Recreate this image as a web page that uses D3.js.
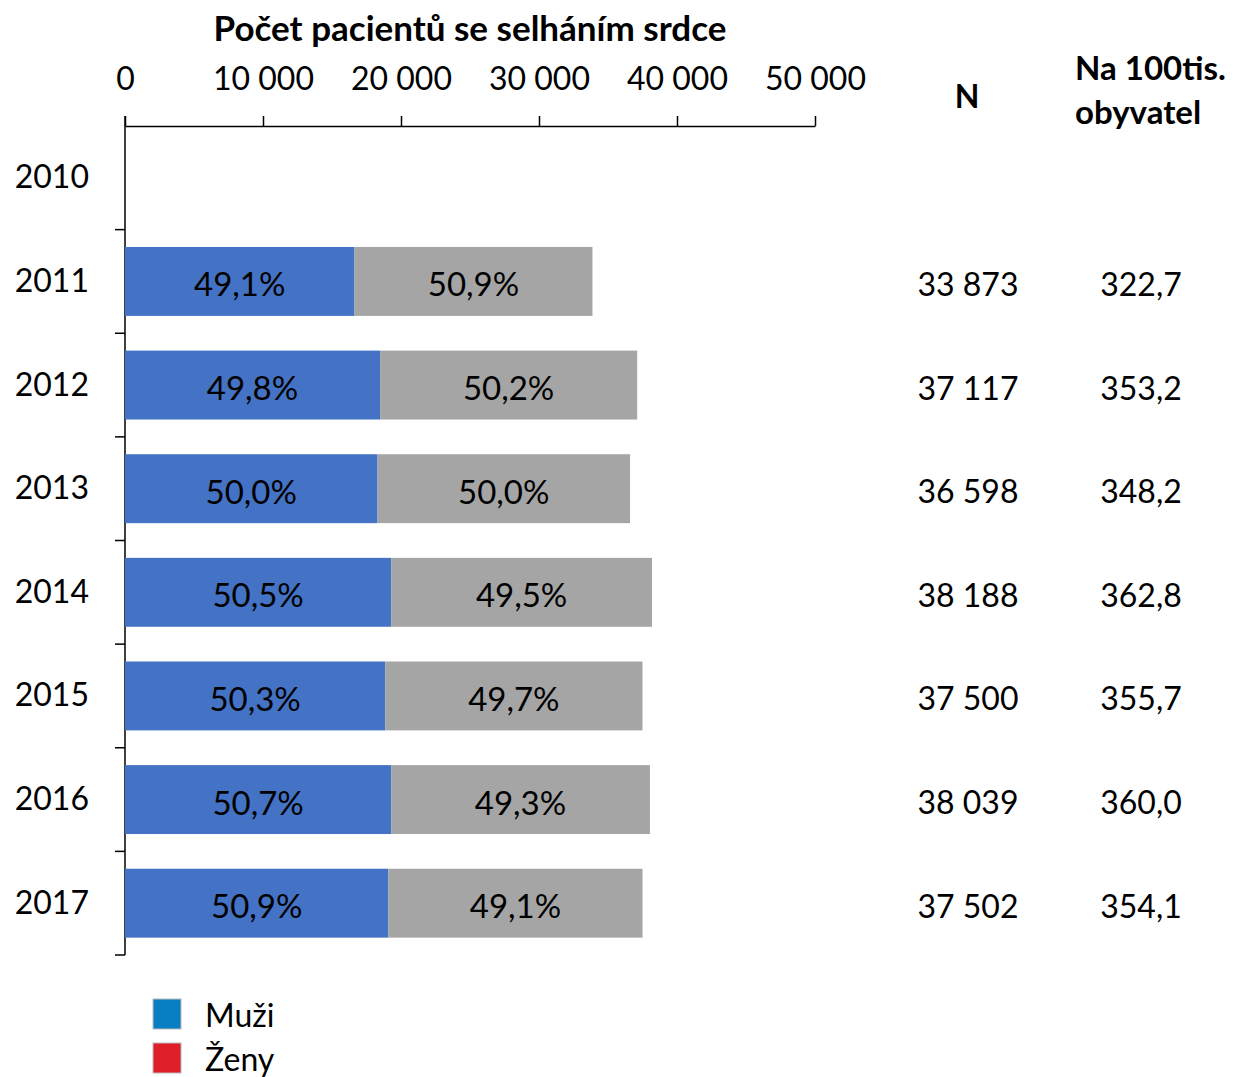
<!DOCTYPE html>
<html lang="cs">
<head>
<meta charset="utf-8">
<title>Počet pacientů se selháním srdce</title>
<script src="https://cdn.jsdelivr.net/npm/d3@7"></script>
<style>
  body { margin: 0; background: #fff; }
  svg text { font-family: Lato, "Open Sans", sans-serif; fill: #000; }
  .axis path, .axis line { stroke: #000; stroke-width: 1.5px; }
</style>
</head>
<body>
<svg width="1234" height="1077"></svg>
<script>
var years = ["2010", "2011", "2012", "2013", "2014", "2015", "2016", "2017"];
var totalN = [null, 33873, 37117, 36598, 38188, 37500, 38039, 37502];
var menShare = [null, 49.1, 49.8, 50.0, 50.5, 50.3, 50.7, 50.9];
var per100k = [null, "322,7", "353,2", "348,2", "362,8", "355,7", "360,0", "354,1"];
var xTicks = [0, 10000, 20000, 30000, 40000, 50000];
var legendItems = [{name: "Muži", color: "#0A7EC2"}, {name: "Ženy", color: "#DF1F27"}];

var svg = d3.select("svg");
var barColors = ["#4472C4", "#A5A5A5"];

var x = d3.scaleLinear().domain([0, 50000]).range([125, 815]);
var y = d3.scaleBand().domain(years).range([126, 955]).paddingInner(0.335).paddingOuter(0.1675);
var yLine = d3.scaleBand().domain(years).range([126, 955]);

var fmtN = function(v) { return d3.format(",")(v).replace(/,/g, " "); };
var fmtPct = function(v) { return v.toFixed(1).replace(".", ",") + "%"; };

// x axis on top
var xAxis = svg.append("g").attr("class", "axis").attr("transform", "translate(0,126)")
  .call(d3.axisTop(x).tickValues(xTicks).tickSize(10).tickSizeOuter(0).tickFormat(fmtN));
xAxis.selectAll("text").attr("dy", null).attr("y", -49).attr("dominant-baseline", "central")
  .style("font-size", "32px");

// y axis line and ticks between categories
svg.append("line").attr("x1", 125).attr("x2", 125).attr("y1", 116).attr("y2", 955)
  .attr("stroke", "#000").attr("stroke-width", 1.5);
var bounds = years.map(function(d) { return yLine(d) + yLine.bandwidth(); });
svg.selectAll(".ytick").data(bounds).enter().append("line")
  .attr("x1", 115).attr("x2", 125)
  .attr("y1", function(d) { return d; }).attr("y2", function(d) { return d; })
  .attr("stroke", "#000").attr("stroke-width", 1.5);

svg.selectAll(".ylab").data(years).enter().append("text")
  .attr("x", 89).attr("y", function(d) { return yLine(d) + yLine.bandwidth() / 2 - 2; })
  .attr("text-anchor", "end").attr("dominant-baseline", "central")
  .style("font-size", "32px").text(function(d) { return d; });

// stacked bars
var rows = years.map(function(yr, i) {
  if (totalN[i] == null) return null;
  var men = totalN[i] * menShare[i] / 100;
  return {year: yr, segs: [
    {x0: 0, x1: men, pct: menShare[i]},
    {x0: men, x1: totalN[i], pct: 100 - menShare[i]}
  ]};
}).filter(function(d) { return d; });

var g = svg.selectAll(".row").data(rows).enter().append("g");
g.selectAll("rect").data(function(d) { return d.segs.map(function(s) { s.year = d.year; return s; }); })
  .enter().append("rect")
  .attr("x", function(d) { return x(d.x0); })
  .attr("width", function(d) { return x(d.x1) - x(d.x0); })
  .attr("y", function(d) { return y(d.year); })
  .attr("height", y.bandwidth())
  .attr("fill", function(d, i) { return barColors[i]; });
g.selectAll(".lab").data(function(d) { return d.segs; }).enter().append("text")
  .attr("x", function(d) { return (x(d.x0) + x(d.x1)) / 2; })
  .attr("y", function(d) { return y(d.year) + y.bandwidth() / 2 + 2; })
  .attr("text-anchor", "middle").attr("dominant-baseline", "central")
  .style("font-size", "33px").text(function(d) { return fmtPct(d.pct); });

// table columns
svg.append("text").attr("x", 967).attr("y", 95).attr("text-anchor", "middle")
  .attr("dominant-baseline", "central").style("font-size", "32px").style("font-weight", "bold").text("N");
svg.append("text").attr("x", 1075).attr("y", 67).attr("dominant-baseline", "central")
  .style("font-size", "33px").style("font-weight", "bold").text("Na 100tis.");
svg.append("text").attr("x", 1075).attr("y", 111).attr("dominant-baseline", "central")
  .style("font-size", "33px").style("font-weight", "bold").text("obyvatel");

years.forEach(function(yr, i) {
  if (totalN[i] == null) return;
  var cy = yLine(yr) + yLine.bandwidth() / 2 + 2;
  svg.append("text").attr("x", 968).attr("y", cy).attr("text-anchor", "middle")
    .attr("dominant-baseline", "central").style("font-size", "32px").text(fmtN(totalN[i]));
  svg.append("text").attr("x", 1141).attr("y", cy).attr("text-anchor", "middle")
    .attr("dominant-baseline", "central").style("font-size", "32px").text(per100k[i]);
});

// title
svg.append("text").attr("x", 470).attr("y", 27).attr("text-anchor", "middle")
  .attr("dominant-baseline", "central").style("font-size", "35px").style("font-weight", "bold")
  .text("Počet pacientů se selháním srdce");

// legend
var lg = svg.selectAll(".leg").data(legendItems).enter().append("g")
  .attr("transform", function(d, i) { return "translate(153," + (999 + i * 44) + ")"; });
lg.append("rect").attr("width", 28).attr("height", 30).attr("fill", function(d) { return d.color; })
  .attr("stroke", "#bbb").attr("stroke-width", 1);
lg.append("text").attr("x", 52).attr("y", 15).attr("dominant-baseline", "central")
  .style("font-size", "32px").text(function(d) { return d.name; });
</script>
</body>
</html>
